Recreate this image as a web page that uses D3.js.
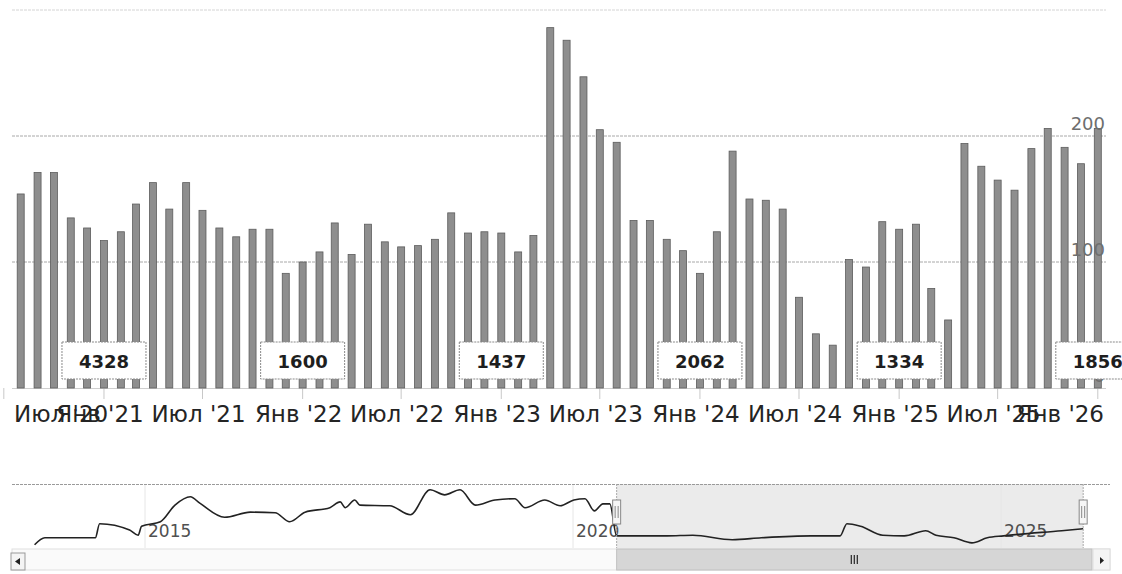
<!DOCTYPE html>
<html>
<head>
<meta charset="utf-8">
<script src="https://d3js.org/d3.v7.min.js"></script>
<style>
  body { margin: 0; background: #fff; }
  svg { display: block; font-family: "DejaVu Sans", sans-serif; }
</style>
</head>
<body>
<svg width="1122" height="574"></svg>
<script>

// monthly values, Aug 2020 .. Jan 2026
const firstMonth = new Date(2020, 7, 1);
const monthly = [154, 171, 171, 135, 127, 117, 124, 146, 163, 142,
                 163, 141, 127, 120, 126, 126, 91, 100, 108, 131,
                 106, 130, 116, 112, 113, 118, 139, 123, 124, 123,
                 108, 121, 286, 276, 247, 205, 195, 133, 133, 118,
                 109, 91, 124, 188, 150, 149, 142, 72, 43, 34,
                 102, 96, 132, 126, 130, 79, 54, 194, 176, 165,
                 157, 190, 206, 191, 178, 206];

// flag boxes shown at each January
const flagMonths = ["2021-01", "2022-01", "2023-01", "2024-01", "2025-01", "2026-01"];
const flagTexts = ["4328", "1600", "1437", "2062", "1334", "1856"];

const monthNames = ["Янв", "Фев", "Мар", "Апр", "Май", "Июн", "Июл", "Авг", "Сен", "Окт", "Ноя", "Дек"];
const yTicks = [0, 100, 200];

// navigator line (decimal year, value)
const navYears = [2013.71, 2013.83, 2014.42, 2014.47, 2014.82, 2014.92, 2014.96, 2015.18, 2015.35, 2015.53,
                  2015.64, 2015.93, 2016.23, 2016.52, 2016.69, 2016.87, 2017.16, 2017.28, 2017.34, 2017.45,
                  2017.51, 2017.86, 2018.10, 2018.33, 2018.50, 2018.68, 2018.86, 2019.09, 2019.32, 2019.44,
                  2019.67, 2019.85, 2020.01, 2020.14, 2020.25, 2020.35, 2020.43, 2020.51, 2021.10, 2021.40,
                  2021.86, 2022.20, 2022.78, 2023.12, 2023.20, 2023.36, 2023.62, 2023.87, 2024.12, 2024.24,
                  2024.45, 2024.66, 2024.84, 2025.03, 2025.71, 2025.96];
const navValues = [5, 16, 16, 38, 28, 20, 34, 41, 67, 80,
                   70, 48, 56, 55, 41, 56, 63, 72, 63, 75,
                   67, 66, 52, 91, 83, 91, 67, 75, 77, 63,
                   75, 66, 75, 77, 58, 69, 69, 19, 19, 20,
                   13, 16, 19, 19, 38, 34, 20, 19, 27, 20,
                   16, 8, 16, 19, 27, 30];
const navLabelYears = [2015, 2020, 2025];
const navSelection = [2020.51, 2025.96];

const svg = d3.select("svg");
const data = monthly.map((v, i) => ({date: d3.timeMonth.offset(firstMonth, i), value: v}));

// ---------- main chart ----------
const x = d3.scaleTime()
  .domain([firstMonth, d3.timeMonth.offset(firstMonth, monthly.length - 1)])
  .range([20.7, 1097.8]);
const y = d3.scaleLinear().domain([0, 300]).range([388, 10]);

const grid = svg.append("g");
[100, 200, 300].forEach(t => {
  grid.append("line")
    .attr("x1", 12).attr("x2", 1106)
    .attr("y1", y(t)).attr("y2", y(t))
    .attr("stroke", t === 300 ? "#d4d4d4" : "#a8a8a8")
    .attr("stroke-dasharray", "3,1");
});

svg.append("line")
  .attr("x1", 12).attr("x2", 1106)
  .attr("y1", y(0) + 0.5).attr("y2", y(0) + 0.5)
  .attr("stroke", "#cfcfcf");

// x ticks every 6 months
const tickDates = d3.timeMonth.every(6).range(new Date(2020, 6, 1), new Date(2026, 1, 1));
svg.append("g").selectAll("line")
  .data(tickDates.filter(d => x(d) > 0))
  .enter().append("line")
  .attr("x1", d => x(d)).attr("x2", d => x(d))
  .attr("y1", y(0)).attr("y2", y(0) + 11)
  .attr("stroke", "#c8c8c8");

svg.append("g").selectAll("rect")
  .data(data)
  .enter().append("rect")
  .attr("x", d => x(d.date) - 3.5)
  .attr("width", 7)
  .attr("y", d => y(d.value))
  .attr("height", d => y(0) - y(d.value))
  .attr("fill", "#8e8e8e")
  .attr("stroke", "#5c5c5c")
  .attr("stroke-width", 0.8);

// x labels, kept inside the plot
const xl = svg.append("g")
  .style("font-size", "23px")
  .attr("fill", "#242424");
tickDates.forEach(d => {
  const t = xl.append("text")
    .attr("y", 422)
    .text(monthNames[d.getMonth()] + " '" + String(d.getFullYear()).slice(2));
  const w = t.node().getComputedTextLength();
  let left = x(d) - w / 2 - 4;
  left = Math.max(14, Math.min(left, 1104 - w));
  t.attr("x", left);
});

// y labels on the right
svg.append("g").selectAll("text")
  .data(yTicks)
  .enter().append("text")
  .attr("x", 1105)
  .attr("y", d => y(d) - 6)
  .attr("text-anchor", "end")
  .style("font-size", "18px")
  .attr("fill", "#6e6e6e")
  .text(d => d);

// flags
const parseMonth = d3.timeParse("%Y-%m");
const flags = svg.append("g").selectAll("g")
  .data(flagMonths.map((m, i) => ({date: parseMonth(m), text: flagTexts[i]})))
  .enter().append("g")
  .attr("transform", d => "translate(" + x(d.date) + ",342)");
flags.append("rect")
  .attr("x", -42).attr("width", 84)
  .attr("height", 37)
  .attr("fill", "#fff")
  .attr("stroke", "#8a8a8a")
  .attr("stroke-dasharray", "2,1");
flags.append("text")
  .attr("y", 26)
  .attr("text-anchor", "middle")
  .style("font-size", "18px")
  .style("font-weight", "bold")
  .attr("fill", "#1e1e1e")
  .text(d => d.text);

// ---------- navigator ----------
const nx = d3.scaleLinear().domain([2015, 2025]).range([145, 1001]);
const ny = d3.scaleLinear().domain([0, 100]).range([548, 484]);
const nav = svg.append("g");

nav.append("rect")
  .attr("x", nx(navSelection[0])).attr("y", 484)
  .attr("width", nx(navSelection[1]) - nx(navSelection[0]))
  .attr("height", 64)
  .attr("fill", "#e2e2e2")
  .attr("opacity", 0.7);

navLabelYears.forEach(yr => {
  nav.append("line")
    .attr("x1", nx(yr)).attr("x2", nx(yr))
    .attr("y1", 484).attr("y2", 548)
    .attr("stroke", "#e6e6e6");
});

nav.append("line")
  .attr("x1", 12).attr("x2", 1110)
  .attr("y1", 484.5).attr("y2", 484.5)
  .attr("stroke", "#9a9a9a")
  .attr("stroke-dasharray", "3,1");

nav.selectAll(".nl")
  .data(navLabelYears)
  .enter().append("text")
  .attr("x", d => nx(d) + 3)
  .attr("y", 537)
  .style("font-size", "17px")
  .attr("fill", "#505050")
  .text(d => d);

const navLine = d3.line()
  .x((d, i) => nx(navYears[i]))
  .y(d => ny(d))
  .curve(d3.curveMonotoneX);
nav.append("path")
  .attr("d", navLine(navValues))
  .attr("fill", "none")
  .attr("stroke", "#222")
  .attr("stroke-width", 1.6);

navSelection.forEach(s => {
  nav.append("line")
    .attr("x1", nx(s)).attr("x2", nx(s))
    .attr("y1", 484).attr("y2", 548)
    .attr("stroke", "#aaa")
    .attr("stroke-dasharray", "2,1");
  nav.append("rect")
    .attr("x", nx(s) - 4).attr("y", 500)
    .attr("width", 8).attr("height", 24)
    .attr("fill", "#f6f6f6")
    .attr("stroke", "#888");
  [-1.5, 1.5].forEach(o => nav.append("line")
    .attr("x1", nx(s) + o).attr("x2", nx(s) + o)
    .attr("y1", 506).attr("y2", 518)
    .attr("stroke", "#888"));
});

// scrollbar
const sb = svg.append("g");
sb.append("rect")
  .attr("x", 12).attr("y", 549).attr("width", 1098).attr("height", 21)
  .attr("fill", "#fafafa").attr("stroke", "#e0e0e0");
sb.append("rect")
  .attr("x", nx(navSelection[0])).attr("y", 549)
  .attr("width", 1092 - nx(navSelection[0])).attr("height", 21)
  .attr("fill", "#d6d6d6").attr("stroke", "#c0c0c0");
const mid = (nx(navSelection[0]) + 1092) / 2;
[-3, 0, 3].forEach(o => sb.append("line")
  .attr("x1", mid + o).attr("x2", mid + o)
  .attr("y1", 555).attr("y2", 564)
  .attr("stroke", "#333").attr("stroke-width", 1.3));
sb.append("rect")
  .attr("x", 11).attr("y", 553).attr("width", 14).attr("height", 17)
  .attr("fill", "#f4f4f4").attr("stroke", "#999");
sb.append("path").attr("d", "M20,558 L15,561.5 L20,565 Z").attr("fill", "#222");
sb.append("rect")
  .attr("x", 1093).attr("y", 549).attr("width", 17).attr("height", 21)
  .attr("fill", "#f4f4f4").attr("stroke", "#ddd");
sb.append("path").attr("d", "M1100,557 L1104,560.5 L1100,564 Z").attr("fill", "#222");

</script>
</body>
</html>
